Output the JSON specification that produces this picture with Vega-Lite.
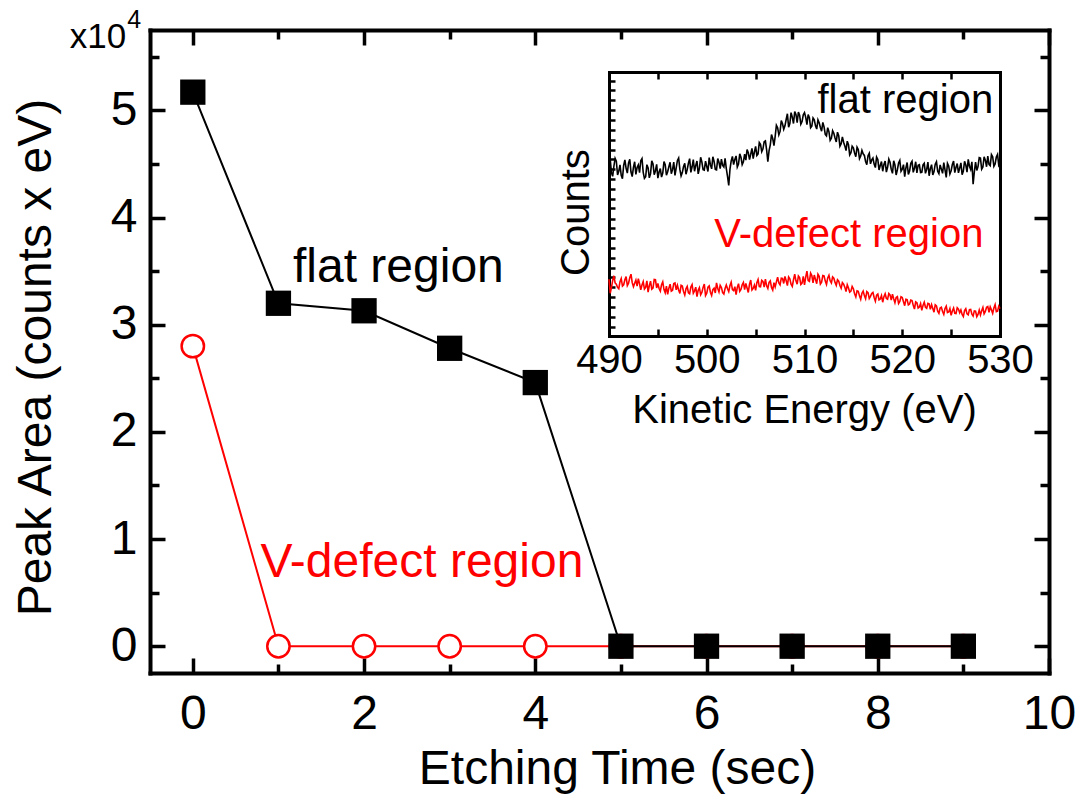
{
  "$schema": "https://vega.github.io/schema/vega-lite/v6.json",
  "width": 899,
  "height": 643,
  "autosize": {"type": "none"},
  "padding": {"left": 150, "top": 30, "right": 33, "bottom": 125},
  "background": "white",
  "config": {
    "view": {"stroke": null},
    "font": "Liberation Sans",
    "axis": {"grid": false, "labelFont": "Liberation Sans", "titleFont": "Liberation Sans", "labelColor": "black", "titleColor": "black", "domainColor": "black", "tickColor": "black", "titleFontWeight": "normal", "tickCap": "butt", "domainCap": "square"}
  },
  "datasets": {
    "main": [
      {"t": 0, "area": 5.17, "region": "flat"},
      {"t": 1, "area": 3.2, "region": "flat"},
      {"t": 2, "area": 3.13, "region": "flat"},
      {"t": 3, "area": 2.78, "region": "flat"},
      {"t": 4, "area": 2.46, "region": "flat"},
      {"t": 5, "area": 0, "region": "flat"},
      {"t": 6, "area": 0, "region": "flat"},
      {"t": 7, "area": 0, "region": "flat"},
      {"t": 8, "area": 0, "region": "flat"},
      {"t": 9, "area": 0, "region": "flat"},
      {"t": 0, "area": 2.8, "region": "vdef"},
      {"t": 1, "area": 0, "region": "vdef"},
      {"t": 2, "area": 0, "region": "vdef"},
      {"t": 3, "area": 0, "region": "vdef"},
      {"t": 4, "area": 0, "region": "vdef"},
      {"t": 5, "area": 0, "region": "vdef"},
      {"t": 6, "area": 0, "region": "vdef"},
      {"t": 7, "area": 0, "region": "vdef"},
      {"t": 8, "area": 0, "region": "vdef"},
      {"t": 9, "area": 0, "region": "vdef"}
    ],
    "spectra": [
      {"e":490,"flat":65.1,"vdef":21.5},{"e":490.25,"flat":61.8,"vdef":18.3},{"e":490.5,"flat":64.3,"vdef":22.8},{"e":490.75,"flat":66.2,"vdef":19.6},
      {"e":491,"flat":62.4,"vdef":17.9},{"e":491.25,"flat":60.9,"vdef":21.8},{"e":491.5,"flat":64.6,"vdef":19.4},{"e":491.75,"flat":63.5,"vdef":22.5},
      {"e":492,"flat":65.6,"vdef":20.0},{"e":492.25,"flat":62.1,"vdef":23.4},{"e":492.5,"flat":63.9,"vdef":18.7},{"e":492.75,"flat":61.2,"vdef":21.2},
      {"e":493,"flat":64.8,"vdef":21.7},{"e":493.25,"flat":66.4,"vdef":17.5},{"e":493.5,"flat":62.0,"vdef":20.6},{"e":493.75,"flat":60.3,"vdef":18.4},
      {"e":494,"flat":63.7,"vdef":16.6},{"e":494.25,"flat":61.5,"vdef":20.8},{"e":494.5,"flat":65.2,"vdef":18.1},{"e":494.75,"flat":62.6,"vdef":21.3},
      {"e":495,"flat":59.8,"vdef":19.9},{"e":495.25,"flat":63.4,"vdef":17.0},{"e":495.5,"flat":61.7,"vdef":20.5},{"e":495.75,"flat":64.9,"vdef":16.4},
      {"e":496,"flat":62.2,"vdef":15.8},{"e":496.25,"flat":65.8,"vdef":19.6},{"e":496.5,"flat":63.0,"vdef":17.3},{"e":496.75,"flat":60.8,"vdef":20.1},
      {"e":497,"flat":66.5,"vdef":19.2},{"e":497.25,"flat":63.1,"vdef":16.1},{"e":497.5,"flat":61.9,"vdef":18.9},{"e":497.75,"flat":65.4,"vdef":15.5},
      {"e":498,"flat":63.0,"vdef":18.8},{"e":498.25,"flat":67.2,"vdef":16.0},{"e":498.5,"flat":64.1,"vdef":19.5},{"e":498.75,"flat":62.4,"vdef":17.1},
      {"e":499,"flat":66.3,"vdef":14.9},{"e":499.25,"flat":63.5,"vdef":18.3},{"e":499.5,"flat":65.9,"vdef":16.5},{"e":499.75,"flat":62.8,"vdef":19.7},
      {"e":500,"flat":64.2,"vdef":16.2},{"e":500.25,"flat":67.6,"vdef":19.0},{"e":500.5,"flat":63.3,"vdef":15.4},{"e":500.75,"flat":66.1,"vdef":18.1},
      {"e":501,"flat":62.9,"vdef":20.1},{"e":501.25,"flat":65.8,"vdef":16.7},{"e":501.5,"flat":67.0,"vdef":18.4},{"e":501.75,"flat":64.0,"vdef":15.9},
      {"e":502,"flat":63.4,"vdef":19.3},{"e":502.25,"flat":57.0,"vdef":16.8},{"e":502.5,"flat":66.3,"vdef":20.4},{"e":502.75,"flat":64.9,"vdef":17.2},
      {"e":503,"flat":68.2,"vdef":15.7},{"e":503.25,"flat":65.1,"vdef":19.8},{"e":503.5,"flat":67.7,"vdef":17.6},{"e":503.75,"flat":66.0,"vdef":20.3},
      {"e":504,"flat":66.6,"vdef":19.9},{"e":504.25,"flat":69.4,"vdef":16.5},{"e":504.5,"flat":68.9,"vdef":21.2},{"e":504.75,"flat":67.2,"vdef":18.0},
      {"e":505,"flat":71.8,"vdef":17.3},{"e":505.25,"flat":69.0,"vdef":21.4},{"e":505.5,"flat":72.6,"vdef":18.6},{"e":505.75,"flat":70.9,"vdef":20.7},
      {"e":506,"flat":73.9,"vdef":21.5},{"e":506.25,"flat":66.0,"vdef":18.0},{"e":506.5,"flat":72.4,"vdef":20.9},{"e":506.75,"flat":74.8,"vdef":17.4},
      {"e":507,"flat":75.6,"vdef":18.6},{"e":507.25,"flat":78.9,"vdef":22.3},{"e":507.5,"flat":77.5,"vdef":19.4},{"e":507.75,"flat":80.4,"vdef":21.8},
      {"e":508,"flat":79.6,"vdef":22.6},{"e":508.25,"flat":84.2,"vdef":19.1},{"e":508.5,"flat":80.5,"vdef":21.7},{"e":508.75,"flat":82.9,"vdef":18.8},
      {"e":509,"flat":85.0,"vdef":23.4},{"e":509.25,"flat":80.8,"vdef":19.6},{"e":509.5,"flat":83.6,"vdef":22.1},{"e":509.75,"flat":81.2,"vdef":20.0},
      {"e":510,"flat":84.6,"vdef":19.4},{"e":510.25,"flat":80.1,"vdef":24.6},{"e":510.5,"flat":82.7,"vdef":20.7},{"e":510.75,"flat":79.5,"vdef":22.9},
      {"e":511,"flat":81.9,"vdef":23.1},{"e":511.25,"flat":78.4,"vdef":19.8},{"e":511.5,"flat":80.8,"vdef":22.6},{"e":511.75,"flat":77.6,"vdef":20.4},
      {"e":512,"flat":79.2,"vdef":22.8},{"e":512.25,"flat":75.8,"vdef":19.5},{"e":512.5,"flat":77.4,"vdef":23.0},{"e":512.75,"flat":74.9,"vdef":20.1},
      {"e":513,"flat":76.8,"vdef":21.9},{"e":513.25,"flat":73.5,"vdef":19.2},{"e":513.5,"flat":75.9,"vdef":20.8},{"e":513.75,"flat":72.8,"vdef":18.1},
      {"e":514,"flat":73.4,"vdef":19.6},{"e":514.25,"flat":70.2,"vdef":16.8},{"e":514.5,"flat":72.5,"vdef":18.2},{"e":514.75,"flat":69.4,"vdef":17.0},
      {"e":515,"flat":71.3,"vdef":17.9},{"e":515.25,"flat":67.9,"vdef":14.8},{"e":515.5,"flat":70.6,"vdef":16.9},{"e":515.75,"flat":68.2,"vdef":13.9},
      {"e":516,"flat":69.0,"vdef":17.0},{"e":516.25,"flat":66.1,"vdef":14.1},{"e":516.5,"flat":68.3,"vdef":16.4},{"e":516.75,"flat":65.2,"vdef":15.0},
      {"e":517,"flat":67.4,"vdef":16.5},{"e":517.25,"flat":63.8,"vdef":13.2},{"e":517.5,"flat":66.9,"vdef":15.9},{"e":517.75,"flat":64.6,"vdef":14.0},
      {"e":518,"flat":62.4,"vdef":12.8},{"e":518.25,"flat":66.3,"vdef":16.0},{"e":518.5,"flat":63.9,"vdef":13.9},{"e":518.75,"flat":65.8,"vdef":15.6},
      {"e":519,"flat":61.6,"vdef":15.8},{"e":519.25,"flat":64.8,"vdef":12.6},{"e":519.5,"flat":62.9,"vdef":14.9},{"e":519.75,"flat":66.5,"vdef":13.1},
      {"e":520,"flat":63.2,"vdef":14.6},{"e":520.25,"flat":60.4,"vdef":11.5},{"e":520.5,"flat":65.7,"vdef":13.8},{"e":520.75,"flat":62.5,"vdef":12.1},
      {"e":521,"flat":66.2,"vdef":13.4},{"e":521.25,"flat":63.5,"vdef":10.2},{"e":521.5,"flat":61.8,"vdef":12.6},{"e":521.75,"flat":64.9,"vdef":11.0},
      {"e":522,"flat":62.0,"vdef":9.7},{"e":522.25,"flat":65.4,"vdef":12.8},{"e":522.5,"flat":63.1,"vdef":10.5},{"e":522.75,"flat":60.7,"vdef":12.2},
      {"e":523,"flat":64.9,"vdef":11.9},{"e":523.25,"flat":62.3,"vdef":9.0},{"e":523.5,"flat":66.0,"vdef":11.4},{"e":523.75,"flat":61.5,"vdef":8.6},
      {"e":524,"flat":63.2,"vdef":10.9},{"e":524.25,"flat":65.7,"vdef":8.2},{"e":524.5,"flat":60.1,"vdef":11.3},{"e":524.75,"flat":64.4,"vdef":9.1},
      {"e":525,"flat":62.6,"vdef":7.8},{"e":525.25,"flat":66.3,"vdef":10.6},{"e":525.5,"flat":63.9,"vdef":8.5},{"e":525.75,"flat":61.8,"vdef":10.2},
      {"e":526,"flat":65.6,"vdef":9.9},{"e":526.25,"flat":62.5,"vdef":7.4},{"e":526.5,"flat":64.8,"vdef":10.3},{"e":526.75,"flat":66.9,"vdef":8.0},
      {"e":527,"flat":63.1,"vdef":10.1},{"e":527.25,"flat":57.5,"vdef":7.6},{"e":527.5,"flat":65.9,"vdef":9.4},{"e":527.75,"flat":64.2,"vdef":8.2},
      {"e":528,"flat":67.4,"vdef":8.0},{"e":528.25,"flat":64.0,"vdef":10.8},{"e":528.5,"flat":66.6,"vdef":9.3},{"e":528.75,"flat":68.1,"vdef":11.2},
      {"e":529,"flat":64.5,"vdef":11.0},{"e":529.25,"flat":67.9,"vdef":8.6},{"e":529.5,"flat":65.2,"vdef":11.9},{"e":529.75,"flat":68.8,"vdef":9.4},
      {"e":530,"flat":65.3,"vdef":10.4},
      {"e":490.125,"flat":67.0,"vdef":16.2},{"e":490.375,"flat":60.5,"vdef":21.0},{"e":490.625,"flat":67.3,"vdef":20.1},{"e":490.875,"flat":61.0,"vdef":18.4},
      {"e":491.125,"flat":64.8,"vdef":20.6},{"e":491.375,"flat":59.6,"vdef":18.9},{"e":491.625,"flat":66.7,"vdef":21.3},{"e":491.875,"flat":61.7,"vdef":19.1},
      {"e":492.125,"flat":66.9,"vdef":22.1},{"e":492.375,"flat":60.4,"vdef":20.2},{"e":492.625,"flat":66.0,"vdef":20.0},{"e":492.875,"flat":63.8,"vdef":18.9},
      {"e":493.125,"flat":61.9,"vdef":19.8},{"e":493.375,"flat":67.2,"vdef":19.3},{"e":493.625,"flat":59.7,"vdef":17.8},{"e":493.875,"flat":64.9,"vdef":20.9},
      {"e":494.125,"flat":59.9,"vdef":19.1},{"e":494.375,"flat":66.4,"vdef":17.7},{"e":494.625,"flat":61.1,"vdef":21.4},{"e":494.875,"flat":65.0,"vdef":18.2},
      {"e":495.125,"flat":62.1,"vdef":18.0},{"e":495.375,"flat":60.2,"vdef":19.4},{"e":495.625,"flat":66.1,"vdef":17.6},{"e":495.875,"flat":60.9,"vdef":18.9},
      {"e":496.125,"flat":64.1,"vdef":18.1},{"e":496.375,"flat":61.5,"vdef":17.0},{"e":496.625,"flat":65.9,"vdef":19.9},{"e":496.875,"flat":63.7,"vdef":17.5},
      {"e":497.125,"flat":67.4,"vdef":17.4},{"e":497.375,"flat":60.6,"vdef":19.2},{"e":497.625,"flat":64.2,"vdef":16.8},{"e":497.875,"flat":61.3,"vdef":17.9},
      {"e":498.125,"flat":65.5,"vdef":16.4},{"e":498.375,"flat":62.0,"vdef":18.6},{"e":498.625,"flat":66.8,"vdef":16.2},{"e":498.875,"flat":64.6,"vdef":18.5},
      {"e":499.125,"flat":61.4,"vdef":17.3},{"e":499.375,"flat":67.7,"vdef":15.6},{"e":499.625,"flat":63.0,"vdef":18.4},{"e":499.875,"flat":66.2,"vdef":15.3},
      {"e":500.125,"flat":62.3,"vdef":18.5},{"e":500.375,"flat":64.8,"vdef":16.6},{"e":500.625,"flat":67.9,"vdef":17.6},{"e":500.875,"flat":63.1,"vdef":16.3},
      {"e":501.125,"flat":67.2,"vdef":18.0},{"e":501.375,"flat":63.4,"vdef":19.2},{"e":501.625,"flat":64.6,"vdef":16.4},{"e":501.875,"flat":67.3,"vdef":18.0},
      {"e":502.125,"flat":60.5,"vdef":17.9},{"e":502.375,"flat":63.1,"vdef":19.1},{"e":502.625,"flat":68.0,"vdef":17.6},{"e":502.875,"flat":66.9,"vdef":18.7},
      {"e":503.125,"flat":64.0,"vdef":18.4},{"e":503.375,"flat":69.0,"vdef":16.9},{"e":503.625,"flat":64.9,"vdef":19.4},{"e":503.875,"flat":68.9,"vdef":17.6},
      {"e":504.125,"flat":70.6,"vdef":18.2},{"e":504.375,"flat":66.8,"vdef":19.6},{"e":504.625,"flat":71.1,"vdef":17.4},{"e":504.875,"flat":69.7,"vdef":19.3},
      {"e":505.125,"flat":68.4,"vdef":20.2},{"e":505.375,"flat":73.3,"vdef":18.7},{"e":505.625,"flat":69.8,"vdef":21.1},{"e":505.875,"flat":73.6,"vdef":18.5},
      {"e":506.125,"flat":70.5,"vdef":19.0},{"e":506.375,"flat":70.2,"vdef":20.3},{"e":506.625,"flat":76.3,"vdef":18.4},{"e":506.875,"flat":72.1,"vdef":20.2},
      {"e":507.125,"flat":79.8,"vdef":20.5},{"e":507.375,"flat":76.2,"vdef":20.1},{"e":507.625,"flat":81.6,"vdef":21.9},{"e":507.875,"flat":78.3,"vdef":19.9},
      {"e":508.125,"flat":82.0,"vdef":20.9},{"e":508.375,"flat":79.1,"vdef":22.4},{"e":508.625,"flat":84.6,"vdef":19.6},{"e":508.875,"flat":80.5,"vdef":21.3},
      {"e":509.125,"flat":83.9,"vdef":20.9},{"e":509.375,"flat":84.8,"vdef":22.7},{"e":509.625,"flat":80.2,"vdef":19.5},{"e":509.875,"flat":83.8,"vdef":22.6},
      {"e":510.125,"flat":82.8,"vdef":22.3},{"e":510.375,"flat":83.9,"vdef":21.0},{"e":510.625,"flat":78.9,"vdef":23.8},{"e":510.875,"flat":82.6,"vdef":20.1},
      {"e":511.125,"flat":79.6,"vdef":21.4},{"e":511.375,"flat":81.9,"vdef":23.4},{"e":511.625,"flat":79.0,"vdef":19.7},{"e":511.875,"flat":80.9,"vdef":22.9},
      {"e":512.125,"flat":76.4,"vdef":20.8},{"e":512.375,"flat":78.9,"vdef":22.0},{"e":512.625,"flat":74.1,"vdef":20.9},{"e":512.875,"flat":77.8,"vdef":22.4},
      {"e":513.125,"flat":75.0,"vdef":20.3},{"e":513.375,"flat":77.2,"vdef":21.3},{"e":513.625,"flat":71.9,"vdef":19.1},{"e":513.875,"flat":75.4,"vdef":20.2},
      {"e":514.125,"flat":72.0,"vdef":18.5},{"e":514.375,"flat":73.8,"vdef":19.4},{"e":514.625,"flat":68.6,"vdef":16.6},{"e":514.875,"flat":71.9,"vdef":18.8},
      {"e":515.125,"flat":69.3,"vdef":16.0},{"e":515.375,"flat":71.5,"vdef":17.1},{"e":515.625,"flat":67.2,"vdef":15.2},{"e":515.875,"flat":70.3,"vdef":16.2},
      {"e":516.125,"flat":68.4,"vdef":15.3},{"e":516.375,"flat":64.9,"vdef":16.8},{"e":516.625,"flat":69.2,"vdef":14.2},{"e":516.875,"flat":66.7,"vdef":16.1},
      {"e":517.125,"flat":65.1,"vdef":14.6},{"e":517.375,"flat":67.8,"vdef":15.5},{"e":517.625,"flat":62.9,"vdef":13.7},{"e":517.875,"flat":66.1,"vdef":15.3},
      {"e":518.125,"flat":65.0,"vdef":14.9},{"e":518.375,"flat":62.1,"vdef":14.2},{"e":518.625,"flat":67.0,"vdef":16.1},{"e":518.875,"flat":63.1,"vdef":13.6},
      {"e":519.125,"flat":66.4,"vdef":14.1},{"e":519.375,"flat":61.0,"vdef":14.6},{"e":519.625,"flat":65.5,"vdef":12.3},{"e":519.875,"flat":62.4,"vdef":14.9},
      {"e":520.125,"flat":64.9,"vdef":13.0},{"e":520.375,"flat":63.7,"vdef":13.9},{"e":520.625,"flat":61.2,"vdef":11.8},{"e":520.875,"flat":65.4,"vdef":13.6},
      {"e":521.125,"flat":62.0,"vdef":11.6},{"e":521.375,"flat":66.0,"vdef":12.9},{"e":521.625,"flat":64.7,"vdef":10.6},{"e":521.875,"flat":61.9,"vdef":12.3},
      {"e":522.125,"flat":64.8,"vdef":11.6},{"e":522.375,"flat":61.6,"vdef":10.9},{"e":522.625,"flat":65.9,"vdef":12.4},{"e":522.875,"flat":63.4,"vdef":10.1},
      {"e":523.125,"flat":61.0,"vdef":10.4},{"e":523.375,"flat":65.1,"vdef":11.8},{"e":523.625,"flat":62.4,"vdef":9.4},{"e":523.875,"flat":64.8,"vdef":10.6},
      {"e":524.125,"flat":61.6,"vdef":9.3},{"e":524.375,"flat":62.9,"vdef":10.4},{"e":524.625,"flat":65.4,"vdef":8.9},{"e":524.875,"flat":61.4,"vdef":10.4},
      {"e":525.125,"flat":65.0,"vdef":9.5},{"e":525.375,"flat":61.9,"vdef":8.6},{"e":525.625,"flat":65.3,"vdef":10.7},{"e":525.875,"flat":63.6,"vdef":8.8},
      {"e":526.125,"flat":61.1,"vdef":8.2},{"e":526.375,"flat":66.2,"vdef":9.6},{"e":526.625,"flat":62.1,"vdef":8.4},{"e":526.875,"flat":64.3,"vdef":10.0},
      {"e":527.125,"flat":66.0,"vdef":8.3},{"e":527.375,"flat":62.2,"vdef":9.5},{"e":527.625,"flat":62.7,"vdef":7.3},{"e":527.875,"flat":67.6,"vdef":9.8},
      {"e":528.125,"flat":63.2,"vdef":9.6},{"e":528.375,"flat":67.9,"vdef":8.4},{"e":528.625,"flat":64.1,"vdef":10.9},{"e":528.875,"flat":65.0,"vdef":9.0},
      {"e":529.125,"flat":68.7,"vdef":9.9},{"e":529.375,"flat":64.3,"vdef":10.6},{"e":529.625,"flat":67.8,"vdef":9.2},{"e":529.875,"flat":64.6,"vdef":11.3}
    ]
  },
  "layer": [
    {
      "layer": [
        {
          "data": {"name": "main"},
          "transform": [{"filter": "datum.region === 'vdef'"}],
          "mark": {"type": "line", "color": "#ff0000", "strokeWidth": 2},
          "encoding": {
            "x": {"field": "t", "type": "quantitative", "scale": {"domain": [-0.5, 10], "nice": false, "zero": false},
              "axis": {"orient": "bottom", "values": [0, 2, 4, 6, 8, 10], "format": "d", "tickSize": -15, "tickWidth": 3.5, "domainWidth": 4, "labelFontSize": 48, "labelPadding": 32, "labelFlush": false, "labelOverlap": false, "title": "Etching Time (sec)", "titleFontSize": 48, "titleX": 467, "titleY": 110, "titleBaseline": "alphabetic", "titleAlign": "center"}},
            "y": {"field": "area", "type": "quantitative", "scale": {"domain": [-0.25, 5.75], "nice": false, "zero": false},
              "axis": {"orient": "left", "values": [0, 1, 2, 3, 4, 5], "format": "d", "tickSize": -15, "tickWidth": 3.5, "domainWidth": 4, "labelFontSize": 48, "labelPadding": 28, "labelFlush": false, "labelOverlap": false, "title": "Peak Area (counts x eV)", "titleFontSize": 48, "titleX": -100, "titleY": 327, "titleAngle": -90, "titleBaseline": "alphabetic", "titleAlign": "center"}}
          }
        },
        {
          "data": {"name": "main"},
          "transform": [{"filter": "datum.region === 'vdef'"}],
          "mark": {"type": "point", "shape": "circle", "filled": true, "fill": "white", "stroke": "#ff0000", "strokeWidth": 2.5, "size": 500, "opacity": 1},
          "encoding": {
            "x": {"field": "t", "type": "quantitative", "scale": {"domain": [-0.5, 10], "nice": false, "zero": false},
              "axis": {"orient": "bottom", "values": [1, 3, 5, 7, 9], "tickSize": -9, "tickWidth": 3.5, "labels": false, "domain": false, "title": null}},
            "y": {"field": "area", "type": "quantitative", "scale": {"domain": [-0.25, 5.75], "nice": false, "zero": false},
              "axis": {"orient": "left", "values": [0.5, 1.5, 2.5, 3.5, 4.5, 5.5], "tickSize": -9, "tickWidth": 3.5, "labels": false, "domain": false, "title": null}}
          }
        },
        {
          "data": {"name": "main"},
          "transform": [{"filter": "datum.region === 'flat'"}],
          "mark": {"type": "line", "color": "#000000", "strokeWidth": 2},
          "encoding": {
            "x": {"field": "t", "type": "quantitative", "scale": {"domain": [-0.5, 10], "nice": false, "zero": false},
              "axis": {"orient": "top", "values": [0, 2, 4, 6, 8, 10], "tickSize": -15, "tickWidth": 3.5, "domainWidth": 4, "labels": false, "title": null}},
            "y": {"field": "area", "type": "quantitative", "scale": {"domain": [-0.25, 5.75], "nice": false, "zero": false},
              "axis": {"orient": "right", "values": [0, 1, 2, 3, 4, 5], "tickSize": -15, "tickWidth": 3.5, "domainWidth": 4, "labels": false, "title": null}}
          }
        },
        {
          "data": {"name": "main"},
          "transform": [{"filter": "datum.region === 'flat'"}],
          "mark": {"type": "point", "shape": "square", "filled": true, "fill": "#000000", "stroke": null, "size": 640, "opacity": 1},
          "encoding": {
            "x": {"field": "t", "type": "quantitative", "scale": {"domain": [-0.5, 10], "nice": false, "zero": false},
              "axis": {"orient": "top", "values": [1, 3, 5, 7, 9], "tickSize": -9, "tickWidth": 3.5, "labels": false, "domain": false, "title": null}},
            "y": {"field": "area", "type": "quantitative", "scale": {"domain": [-0.25, 5.75], "nice": false, "zero": false},
              "axis": {"orient": "right", "values": [0.5, 1.5, 2.5, 3.5, 4.5, 5.5], "tickSize": -9, "tickWidth": 3.5, "labels": false, "domain": false, "title": null}}
          }
        },
        {
          "data": {"values": [
            {"label": "flat region", "x": 1.17, "y": 3.395, "region": "flat"},
            {"label": "V-defect region", "x": 0.79, "y": 0.644, "region": "vdef"}
          ]},
          "mark": {"type": "text", "fontSize": 48, "align": "left", "baseline": "alphabetic", "font": "Liberation Sans"},
          "encoding": {
            "x": {"field": "x", "type": "quantitative", "scale": {"domain": [-0.5, 10], "nice": false, "zero": false}, "axis": null},
            "y": {"field": "y", "type": "quantitative", "scale": {"domain": [-0.25, 5.75], "nice": false, "zero": false}, "axis": null},
            "text": {"field": "label"},
            "color": {"field": "region", "type": "nominal", "scale": {"domain": ["flat", "vdef"], "range": ["#000000", "#ff0000"]}, "legend": null}
          }
        },
        {
          "data": {"values": [{"label": "x10", "x": -1.437, "y": 5.578}]},
          "mark": {"type": "text", "fontSize": 35, "align": "left", "baseline": "alphabetic", "font": "Liberation Sans", "color": "#000000"},
          "encoding": {
            "x": {"field": "x", "type": "quantitative", "scale": {"domain": [-0.5, 10], "nice": false, "zero": false}, "axis": null},
            "y": {"field": "y", "type": "quantitative", "scale": {"domain": [-0.25, 5.75], "nice": false, "zero": false}, "axis": null},
            "text": {"field": "label"}
          }
        },
        {
          "data": {"values": [{"label": "4", "x": -0.765, "y": 5.765}]},
          "mark": {"type": "text", "fontSize": 25, "align": "left", "baseline": "alphabetic", "font": "Liberation Sans", "color": "#000000"},
          "encoding": {
            "x": {"field": "x", "type": "quantitative", "scale": {"domain": [-0.5, 10], "nice": false, "zero": false}, "axis": null},
            "y": {"field": "y", "type": "quantitative", "scale": {"domain": [-0.25, 5.75], "nice": false, "zero": false}, "axis": null},
            "text": {"field": "label"}
          }
        }
      ],
      "resolve": {"axis": {"x": "independent", "y": "independent"}}
    },
    {
      "layer": [
        {
          "data": {"name": "spectra"},
          "mark": {"type": "line", "color": "#000000", "strokeWidth": 1.6},
          "encoding": {
            "x": {"field": "e", "type": "quantitative", "scale": {"domain": [490, 530], "range": [459, 850], "nice": false, "zero": false},
              "axis": {"orient": "bottom", "offset": -337, "values": [490, 495, 500, 505, 510, 515, 520, 525, 530], "labelExpr": "datum.value % 10 === 0 ? datum.label : ''", "tickSize": -7, "tickWidth": 2.5, "domainWidth": 3, "labelFontSize": 40, "labelPadding": 11, "labelFlush": false, "labelOverlap": false, "title": "Kinetic Energy (eV)", "titleFontSize": 40, "titleX": 654, "titleY": 86, "titleBaseline": "alphabetic", "titleAlign": "center"}},
            "y": {"field": "flat", "type": "quantitative", "scale": {"domain": [0, 100], "range": [306, 42], "nice": false, "zero": false},
              "axis": {"orient": "left", "offset": -459, "values": [3.5, 7.2, 11.0, 14.7, 18.4, 22.2, 25.9, 29.6, 33.3, 37.1, 40.8, 44.5, 48.3, 52.0, 55.7, 59.5, 63.2, 66.9, 70.6, 74.4, 78.1, 81.8, 85.6, 89.3, 93.0, 96.7], "tickSize": -6, "tickWidth": 2.5, "domainWidth": 3, "labels": false, "title": "Counts", "titleFontSize": 40, "titleX": -21, "titleY": 182, "titleAngle": -90, "titleBaseline": "alphabetic", "titleAlign": "center"}}
          }
        },
        {
          "data": {"name": "spectra"},
          "mark": {"type": "line", "color": "#ff0000", "strokeWidth": 1.6},
          "encoding": {
            "x": {"field": "e", "type": "quantitative", "scale": {"domain": [490, 530], "range": [459, 850], "nice": false, "zero": false},
              "axis": {"orient": "top", "offset": -42, "values": [490, 495, 500, 505, 510, 515, 520, 525, 530], "tickSize": -7, "tickWidth": 2.5, "domainWidth": 3, "labels": false, "title": null}},
            "y": {"field": "vdef", "type": "quantitative", "scale": {"domain": [0, 100], "range": [306, 42], "nice": false, "zero": false},
              "axis": {"orient": "right", "offset": -49, "ticks": false, "labels": false, "domainWidth": 3, "title": null}}
          }
        },
        {
          "data": {"values": [
            {"label": "flat region", "e": 529.3, "c": 84.5, "region": "flat"},
            {"label": "V-defect region", "e": 528.3, "c": 33.7, "region": "vdef"}
          ]},
          "mark": {"type": "text", "fontSize": 40, "align": "right", "baseline": "alphabetic", "font": "Liberation Sans"},
          "encoding": {
            "x": {"field": "e", "type": "quantitative", "scale": {"domain": [490, 530], "range": [459, 850], "nice": false, "zero": false}, "axis": null},
            "y": {"field": "c", "type": "quantitative", "scale": {"domain": [0, 100], "range": [306, 42], "nice": false, "zero": false}, "axis": null},
            "text": {"field": "label"},
            "color": {"field": "region", "type": "nominal", "scale": {"domain": ["flat", "vdef"], "range": ["#000000", "#ff0000"]}, "legend": null}
          }
        }
      ],
      "resolve": {"axis": {"x": "independent", "y": "independent"}}
    }
  ],
  "resolve": {"scale": {"x": "independent", "y": "independent"}, "axis": {"x": "independent", "y": "independent"}}
}
